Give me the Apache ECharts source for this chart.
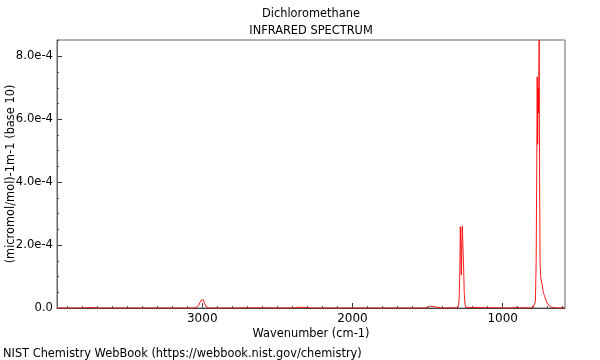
<!DOCTYPE html>
<html>
<head>
<meta charset="utf-8">
<script src="https://cdn.jsdelivr.net/npm/echarts@6/dist/echarts.min.js"></script>
<style>html,body{margin:0;padding:0;background:#fff}#c{width:600px;height:360px}</style>
</head>
<body>
<div id="c"></div>
<script>
var titleMain = 'Dichloromethane';
var titleSub = 'INFRARED SPECTRUM';
var xName = 'Wavenumber (cm-1)';
var yName = '(micromol/mol)-1m-1 (base 10)';
var footer = 'NIST Chemistry WebBook (https://webbook.nist.gov/chemistry)';

var xMajorTicks = [3000, 2000, 1000];
var yMajorTicks = [0, 2e-4, 4e-4, 6e-4, 8e-4];

var wavenumbers = [3967, 3800, 3760, 3740, 3720, 3700, 3400, 3100, 3045, 3035, 3025, 3015, 3007, 3000, 2993, 2985, 2975, 2965, 2955,
  2750, 2710, 2700, 2690, 2400, 2370, 2350, 2330, 2300, 2280, 2000, 1600, 1520, 1500, 1485, 1475, 1465, 1455, 1440, 1420, 1400,
  1300, 1293, 1289, 1285, 1282, 1278, 1275, 1272, 1269, 1266, 1263, 1260, 1256, 1251, 1245, 1238,
  950, 920, 905, 890, 800, 790, 782, 777, 773, 770, 767, 764, 761, 757, 754, 751, 747, 740, 736, 730, 722, 716, 710, 700, 690, 675, 655, 640, 585];
var absorbance = [0, 0, 0.01e-4, 0.015e-4, 0.01e-4, 0, 0, 0, 0, 0.01e-4, 0.08e-4, 0.18e-4, 0.25e-4, 0.2e-4, 0.26e-4, 0.15e-4, 0.05e-4, 0.01e-4, 0,
  0, 0.005e-4, 0.02e-4, 0.005e-4, 0, 0.015e-4, 0.025e-4, 0.02e-4, 0.01e-4, 0, 0, 0, 0, 0.01e-4, 0.06e-4, 0.08e-4, 0.05e-4, 0.07e-4, 0.03e-4, 0.01e-4, 0,
  0.005e-4, 0.1e-4, 0.4e-4, 1.2e-4, 2.58e-4, 1.8e-4, 1.05e-4, 2.0e-4, 2.61e-4, 2.2e-4, 2.15e-4, 1.3e-4, 0.5e-4, 0.12e-4, 0.02e-4, 0,
  0, 0.01e-4, 0.03e-4, 0.005e-4, 0, 0.01e-4, 0.2e-4, 1.5e-4, 4.5e-4, 7.35e-4, 5.2e-4, 7.0e-4, 6.2e-4, 8.52e-4, 4.0e-4, 1.5e-4, 1.0e-4, 0.8e-4, 0.72e-4, 0.5e-4, 0.4e-4, 0.35e-4, 0.22e-4, 0.12e-4, 0.06e-4, 0.03e-4, 0.01e-4, 0, 0];

var xMin = 585, xMax = 3967, yMin = 0, yMax = 8.52e-4;

var xMinorTicks = [];
for (var t = 600; t <= 3900; t += 100) xMinorTicks.push(t);
var yMinorTicks = [];
for (var k = 0; k <= 17; k++) yMinorTicks.push(k * 0.5e-4);

var points = wavenumbers.map(function (w, i) { return [w, absorbance[i]]; });

var font = 'DejaVu Sans';
var fs = 11.4;
var chart = echarts.init(document.getElementById('c'), null, { renderer: 'canvas' });
chart.setOption({
  animation: false,
  backgroundColor: '#fff',
  title: [
    { text: titleMain, left: 311, top: 9, padding: 0, textAlign: 'center', textStyle: { fontFamily: font, fontSize: fs, fontWeight: 'normal', color: '#000' } },
    { text: titleSub, left: 311, top: 26, padding: 0, textAlign: 'center', textStyle: { fontFamily: font, fontSize: fs, fontWeight: 'normal', color: '#000' } }
  ],
  graphic: [
    { type: 'text', left: 3, top: 349, style: { text: footer, font: fs + 'px "DejaVu Sans"', fill: '#000' } }
  ],
  grid: { left: 57, right: 35, top: 40, bottom: 52, show: true, borderColor: '#666', borderWidth: 1, containLabel: false, outerBoundsMode: 'none' },
  xAxis: [
    {
      type: 'value', inverse: true, min: xMin, max: xMax, position: 'bottom',
      name: xName, nameLocation: 'middle', nameGap: 21, nameMoveOverlap: false,
      nameTextStyle: { fontFamily: font, fontSize: fs, color: '#000' },
      axisLine: { show: true, lineStyle: { color: '#444', width: 1 } },
      axisTick: { show: true, inside: true, length: 5, customValues: xMajorTicks, lineStyle: { color: '#333' } },
      axisLabel: { show: true, margin: 5, customValues: xMajorTicks, fontFamily: font, fontSize: 12, color: '#000',
        formatter: function (v) { return String(v); } },
      splitLine: { show: false }
    },
    {
      type: 'value', inverse: true, min: xMin, max: xMax, position: 'bottom', offset: 0,
      axisLine: { show: false },
      axisTick: { show: true, inside: true, length: 2, customValues: xMinorTicks, lineStyle: { color: '#555' } },
      axisLabel: { show: false },
      splitLine: { show: false }
    }
  ],
  yAxis: [
    {
      type: 'value', min: yMin, max: yMax, position: 'left',
      name: yName, nameLocation: 'middle', nameGap: 40, nameMoveOverlap: false,
      nameTextStyle: { fontFamily: font, fontSize: fs, color: '#000' },
      axisLine: { show: true, lineStyle: { color: '#666', width: 1 } },
      axisTick: { show: true, inside: true, length: 5, customValues: yMajorTicks, lineStyle: { color: '#333' } },
      axisLabel: { show: true, margin: 4, customValues: yMajorTicks, fontFamily: font, fontSize: 11.6, color: '#000',
        padding: [3, 0, 0, 0],
        formatter: function (v) { return v === 0 ? '0.0' : v.toExponential(1); } },
      splitLine: { show: false }
    },
    {
      type: 'value', min: yMin, max: yMax, position: 'left', offset: 0,
      axisLine: { show: false },
      axisTick: { show: true, inside: true, length: 2, customValues: yMinorTicks, lineStyle: { color: '#555' } },
      axisLabel: { show: false },
      splitLine: { show: false }
    }
  ],
  series: [
    {
      type: 'line', xAxisIndex: 0, yAxisIndex: 0, data: points, showSymbol: false, symbol: 'none',
      lineStyle: { color: '#ff0000', width: 0.9 }, clip: true, z: 5
    }
  ]
});
</script>
</body>
</html>
